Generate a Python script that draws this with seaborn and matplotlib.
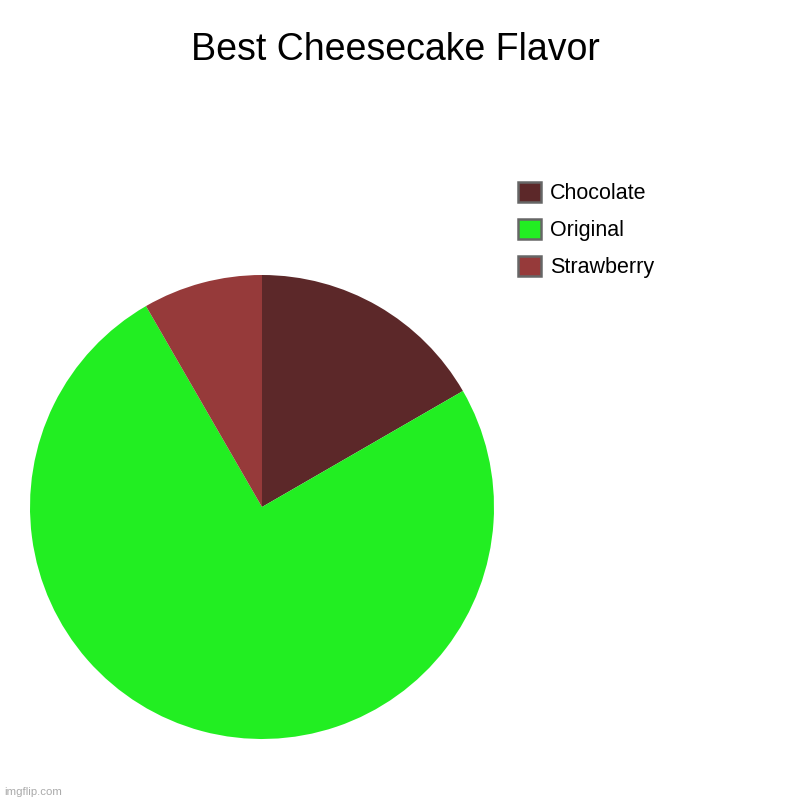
import matplotlib.pyplot as plt
import matplotlib.patches as mpatches
import seaborn as sns

# data
flavors = ['Chocolate', 'Original', 'Strawberry']
votes = [2, 9, 1]
colors = ['#5C2829', '#22EE22', '#963A3A']
title = 'Best Cheesecake Flavor'

sns.set_style('white')
plt.rcParams['font.family'] = ['Liberation Sans', 'DejaVu Sans']
plt.rcParams['text.color'] = 'black'

fig = plt.figure(figsize=(8, 8), dpi=100)
fig.patch.set_facecolor('white')

# pie area: centre (262, 507) px, radius 232 px
ax = fig.add_axes([30 / 800, 61 / 800, 464 / 800, 464 / 800])
ax.pie(votes, colors=colors, startangle=90, counterclock=False,
       radius=1, wedgeprops={'linewidth': 0})
ax.set_xlim(-1, 1)
ax.set_ylim(-1, 1)
ax.set_aspect('equal')
ax.axis('off')

fig.text(0.494, 1 - 50 / 800, title, ha='center', va='center',
         fontsize=27, color='black')

handles = [mpatches.Patch(facecolor=c, edgecolor='#666666', linewidth=1.8, label=f)
           for f, c in zip(flavors, colors)]
leg = fig.legend(handles=handles, loc='upper left',
                 bbox_to_anchor=(518 / 800, 1 - 182 / 800),
                 frameon=False, fontsize=15.5, borderpad=0, borderaxespad=0,
                 handlelength=1.05, handleheight=1.05, handletextpad=0.45,
                 labelspacing=0.68)
for t in leg.get_texts():
    t.set_color('black')

fig.text(4 / 800, 1 - 792 / 800, 'imgflip.com', ha='left', va='center',
         fontsize=8.2, color='#AAAAAA')

plt.savefig('out.png', dpi=100)
